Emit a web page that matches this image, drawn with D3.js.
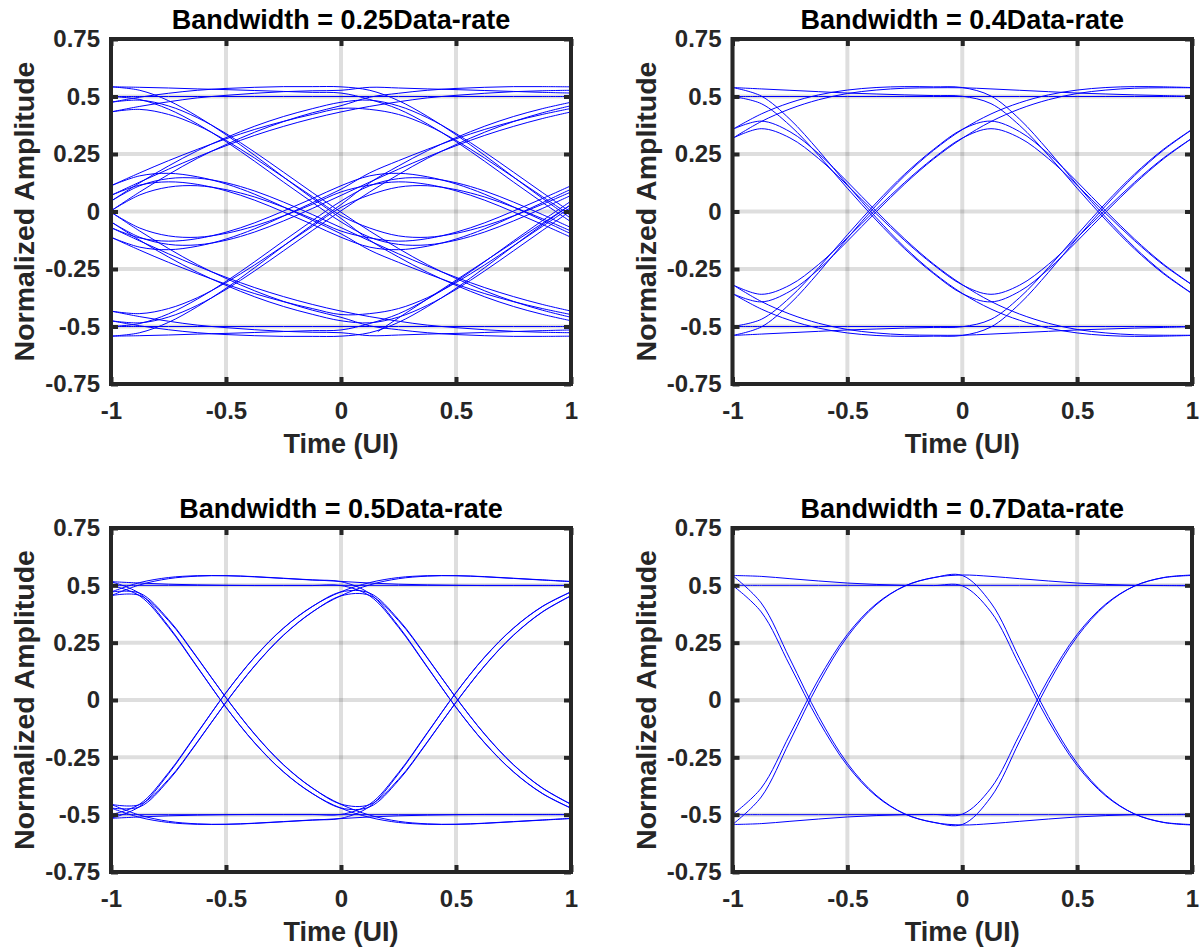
<!DOCTYPE html>
<html><head><meta charset="utf-8">
<script src="https://cdn.jsdelivr.net/npm/d3@7/dist/d3.min.js"></script>
<style>html,body{margin:0;padding:0;background:#fff;}</style>
</head><body>
<svg id="chart" width="1202" height="952"></svg>
<script>
// ---------- data ----------
const xTicks = [-1, -0.5, 0, 0.5, 1];
const xTickLabels = ["-1", "-0.5", "0", "0.5", "1"];
const yTicks = [-0.75, -0.5, -0.25, 0, 0.25, 0.5, 0.75];
const yTickLabels = ["-0.75", "-0.5", "-0.25", "0", "0.25", "0.5", "0.75"];
const titles = ["Bandwidth = 0.25Data-rate", "Bandwidth = 0.4Data-rate",
                "Bandwidth = 0.5Data-rate", "Bandwidth = 0.7Data-rate"];
const xLabel = "Time (UI)";
const yLabel = "Normalized Amplitude";
// sample phases inside one unit interval
const phase = [0, 0.125, 0.25, 0.375, 0.5, 0.625, 0.75, 0.875, 1];

// amplitude of each one-UI eye segment at the phases above
const bw025 = [
  [0.5, 0.5, 0.5, 0.5, 0.5, 0.5, 0.5, 0.5, 0.5],
  [0.542, 0.540, 0.537, 0.533, 0.530, 0.526, 0.522, 0.518, 0.515],
  [0.475, 0.497, 0.514, 0.527, 0.535, 0.540, 0.543, 0.543, 0.542],
  [0.433, 0.457, 0.477, 0.494, 0.505, 0.514, 0.521, 0.525, 0.527],
  [0.045, 0.125, 0.198, 0.264, 0.321, 0.371, 0.413, 0.447, 0.475],
  [0.003, 0.085, 0.161, 0.231, 0.291, 0.345, 0.391, 0.429, 0.460],
  [0.070, 0.128, 0.184, 0.237, 0.286, 0.331, 0.370, 0.404, 0.433],
  [0.112, 0.168, 0.221, 0.270, 0.316, 0.357, 0.392, 0.422, 0.448],
  [-0.5, -0.487, -0.445, -0.381, -0.304, -0.218, -0.128, -0.040, 0.045],
  [-0.542, -0.527, -0.482, -0.414, -0.334, -0.244, -0.150, -0.058, 0.030],
  [-0.475, -0.484, -0.459, -0.408, -0.339, -0.258, -0.171, -0.083, 0.003],
  [-0.433, -0.444, -0.422, -0.375, -0.309, -0.232, -0.149, -0.065, 0.018],
  [-0.045, -0.112, -0.143, -0.145, -0.125, -0.089, -0.041, 0.013, 0.070],
  [-0.003, -0.072, -0.106, -0.112, -0.095, -0.063, -0.019, 0.031, 0.085],
  [-0.070, -0.115, -0.129, -0.118, -0.090, -0.049, 0.002, 0.056, 0.112],
  [-0.112, -0.155, -0.166, -0.151, -0.120, -0.075, -0.020, 0.038, 0.097],
  [-0.5, -0.5, -0.5, -0.5, -0.5, -0.5, -0.5, -0.5, -0.5],
  [-0.542, -0.540, -0.537, -0.533, -0.530, -0.526, -0.522, -0.518, -0.515],
  [-0.475, -0.497, -0.514, -0.527, -0.535, -0.540, -0.543, -0.543, -0.542],
  [-0.433, -0.457, -0.477, -0.494, -0.505, -0.514, -0.521, -0.525, -0.527],
  [-0.045, -0.125, -0.198, -0.264, -0.321, -0.371, -0.413, -0.447, -0.475],
  [-0.003, -0.085, -0.161, -0.231, -0.291, -0.345, -0.391, -0.429, -0.460],
  [-0.070, -0.128, -0.184, -0.237, -0.286, -0.331, -0.370, -0.404, -0.433],
  [-0.112, -0.168, -0.221, -0.270, -0.316, -0.357, -0.392, -0.422, -0.448],
  [0.5, 0.487, 0.445, 0.381, 0.304, 0.218, 0.128, 0.040, -0.045],
  [0.542, 0.527, 0.482, 0.414, 0.334, 0.244, 0.150, 0.058, -0.030],
  [0.475, 0.484, 0.459, 0.408, 0.339, 0.258, 0.171, 0.083, -0.003],
  [0.433, 0.444, 0.422, 0.375, 0.309, 0.232, 0.149, 0.065, -0.018],
  [0.045, 0.112, 0.143, 0.145, 0.125, 0.089, 0.041, -0.013, -0.070],
  [0.003, 0.072, 0.106, 0.112, 0.095, 0.063, 0.019, -0.031, -0.085],
  [0.070, 0.115, 0.129, 0.118, 0.090, 0.049, -0.002, -0.056, -0.112],
  [0.112, 0.155, 0.166, 0.151, 0.120, 0.075, 0.020, -0.038, -0.097]
];
// which segment (first UI) is followed by which (second UI) in each trace
const pairs025 = [[0,0],[1,24],[2,25],[3,1],[4,26],[5,2],[6,3],[7,27],
                  [8,28],[9,4],[10,5],[11,29],[12,6],[13,30],[14,31],[15,7],
                  [16,16],[17,8],[18,9],[19,17],[20,10],[21,18],[22,19],[23,11],
                  [24,12],[25,20],[26,21],[27,13],[28,22],[29,14],[30,15],[31,23]];
// stray straight trace in the 0.25 panel (start and end time, amplitude)
const strayX = [0.16, 1];
const strayY = [-0.522, 0.03];

const bw04 = [
  [0.5, 0.5, 0.5, 0.5, 0.5, 0.5, 0.5, 0.5, 0.5],
  [0.539, 0.533, 0.527, 0.521, 0.515, 0.511, 0.507, 0.504, 0.501],
  [0.357, 0.424, 0.473, 0.507, 0.528, 0.539, 0.543, 0.542, 0.539],
  [0.318, 0.391, 0.446, 0.486, 0.513, 0.528, 0.536, 0.538, 0.538],
  [-0.5, -0.469, -0.374, -0.244, -0.101, 0.037, 0.163, 0.270, 0.357],
  [-0.539, -0.502, -0.401, -0.265, -0.116, 0.026, 0.156, 0.266, 0.356],
  [-0.357, -0.393, -0.347, -0.251, -0.129, -0.002, 0.120, 0.228, 0.318],
  [-0.318, -0.360, -0.320, -0.230, -0.114, 0.009, 0.127, 0.232, 0.319],
  [-0.5, -0.5, -0.5, -0.5, -0.5, -0.5, -0.5, -0.5, -0.5],
  [-0.539, -0.533, -0.527, -0.521, -0.515, -0.511, -0.507, -0.504, -0.501],
  [-0.357, -0.424, -0.473, -0.507, -0.528, -0.539, -0.543, -0.542, -0.539],
  [-0.318, -0.391, -0.446, -0.486, -0.513, -0.528, -0.536, -0.538, -0.538],
  [0.5, 0.469, 0.374, 0.244, 0.101, -0.037, -0.163, -0.270, -0.357],
  [0.539, 0.502, 0.401, 0.265, 0.116, -0.026, -0.156, -0.266, -0.356],
  [0.357, 0.393, 0.347, 0.251, 0.129, 0.002, -0.120, -0.228, -0.318],
  [0.318, 0.360, 0.320, 0.230, 0.114, -0.009, -0.127, -0.232, -0.319]
];
const pairs04 = [[0,0],[1,12],[2,13],[3,1],[4,14],[5,2],[6,3],[7,15],
                 [8,8],[9,4],[10,5],[11,9],[12,6],[13,10],[14,11],[15,7]];

const bw05 = [
  [0.5, 0.5, 0.5, 0.5, 0.5, 0.5, 0.5, 0.5, 0.5],
  [0.516, 0.510, 0.505, 0.502, 0.500, 0.499, 0.499, 0.499, 0.499],
  [0.471, 0.512, 0.534, 0.542, 0.542, 0.537, 0.530, 0.523, 0.516],
  [0.455, 0.502, 0.529, 0.540, 0.542, 0.538, 0.531, 0.524, 0.517],
  [-0.5, -0.454, -0.317, -0.143, 0.032, 0.187, 0.313, 0.407, 0.471],
  [-0.516, -0.464, -0.322, -0.145, 0.032, 0.188, 0.314, 0.408, 0.472],
  [-0.471, -0.466, -0.351, -0.185, -0.010, 0.150, 0.283, 0.384, 0.455],
  [-0.455, -0.456, -0.346, -0.183, -0.010, 0.149, 0.282, 0.383, 0.454],
  [-0.5, -0.5, -0.5, -0.5, -0.5, -0.5, -0.5, -0.5, -0.5],
  [-0.516, -0.510, -0.505, -0.502, -0.500, -0.499, -0.499, -0.499, -0.499],
  [-0.471, -0.512, -0.534, -0.542, -0.542, -0.537, -0.530, -0.523, -0.516],
  [-0.455, -0.502, -0.529, -0.540, -0.542, -0.538, -0.531, -0.524, -0.517],
  [0.5, 0.454, 0.317, 0.143, -0.032, -0.187, -0.313, -0.407, -0.471],
  [0.516, 0.464, 0.322, 0.145, -0.032, -0.188, -0.314, -0.408, -0.472],
  [0.471, 0.466, 0.351, 0.185, 0.010, -0.150, -0.283, -0.384, -0.455],
  [0.455, 0.456, 0.346, 0.183, 0.010, -0.149, -0.282, -0.383, -0.454]
];
const pairs05 = [[0,0],[1,12],[2,13],[3,1],[4,14],[5,2],[6,3],[7,15],
                 [8,8],[9,4],[10,5],[11,9],[12,6],[13,10],[14,11],[15,7]];

const bw07 = [
  [0.5, 0.5, 0.5, 0.5, 0.5, 0.5, 0.5, 0.5, 0.5],
  [0.543, 0.539, 0.529, 0.519, 0.510, 0.504, 0.500, 0.499, 0.498],
  [-0.5, -0.384, -0.150, 0.091, 0.286, 0.419, 0.497, 0.533, 0.543],
  [-0.543, -0.423, -0.179, 0.072, 0.276, 0.415, 0.497, 0.534, 0.545],
  [-0.5, -0.5, -0.5, -0.5, -0.5, -0.5, -0.5, -0.5, -0.5],
  [-0.543, -0.539, -0.529, -0.519, -0.510, -0.504, -0.500, -0.499, -0.498],
  [0.5, 0.384, 0.150, -0.091, -0.286, -0.419, -0.497, -0.533, -0.543],
  [0.543, 0.423, 0.179, -0.072, -0.276, -0.415, -0.497, -0.534, -0.545]
];
const pairs07 = [[0,0],[1,6],[2,7],[3,1],[4,4],[5,2],[6,3],[7,5]];

// ---------- layout ----------
const FONT = "'Liberation Sans', Arial, Helvetica, sans-serif";
const AXIS_COLOR = "#262626";
const panels = [
  { title: titles[0], segs: bw025, pairs: pairs025, stray: true,  left: 111,   right: 571,  top: 39,  bottom: 384 },
  { title: titles[1], segs: bw04,  pairs: pairs04,  stray: false, left: 732.5, right: 1192, top: 39,  bottom: 384 },
  { title: titles[2], segs: bw05,  pairs: pairs05,  stray: false, left: 111,   right: 571,  top: 528, bottom: 872 },
  { title: titles[3], segs: bw07,  pairs: pairs07,  stray: false, left: 732.5, right: 1192, top: 528, bottom: 872 }
];

const svg = d3.select("#chart");

panels.forEach((p, pi) => {
  const x = d3.scaleLinear().domain([-1, 1]).range([p.left, p.right]);
  const y = d3.scaleLinear().domain([-0.75, 0.75]).range([p.bottom, p.top]);
  const g = svg.append("g");

  // grid
  g.append("g").selectAll("line").data(xTicks).join("line")
    .attr("x1", d => x(d)).attr("x2", d => x(d))
    .attr("y1", p.top).attr("y2", p.bottom)
    .attr("stroke", "#000").attr("stroke-opacity", 0.13).attr("stroke-width", 4);
  g.append("g").selectAll("line").data(yTicks).join("line")
    .attr("y1", d => y(d)).attr("y2", d => y(d))
    .attr("x1", p.left).attr("x2", p.right)
    .attr("stroke", "#000").attr("stroke-opacity", 0.13).attr("stroke-width", 4);

  // clip
  const clipId = "clip" + pi;
  svg.append("clipPath").attr("id", clipId).append("rect")
    .attr("x", p.left).attr("y", p.top)
    .attr("width", p.right - p.left).attr("height", p.bottom - p.top);

  // eye traces: two unit intervals per trace
  const line = d3.line().x(d => x(d[0])).y(d => y(d[1]))
    .curve(d3.curveCatmullRom.alpha(0.5));
  const traces = p.pairs.map(([a, b]) => {
    const first = p.segs[a].map((v, i) => [-1 + phase[i], v]);
    const second = p.segs[b].slice(1).map((v, i) => [phase[i + 1], v]);
    return first.concat(second);
  });
  const tg = g.append("g").attr("clip-path", `url(#${clipId})`);
  tg.selectAll("path").data(traces).join("path")
    .attr("d", line)
    .attr("fill", "none").attr("stroke", "#0000ff").attr("stroke-width", 1);
  if (p.stray) {
    const pts = strayX.map((v, i) => [v, strayY[i]]);
    tg.append("path").attr("d", d3.line().x(d => x(d[0])).y(d => y(d[1]))(pts))
      .attr("fill", "none").attr("stroke", "#0000ff").attr("stroke-width", 1);
  }

  // axes (inward ticks on all sides)
  const styleAxis = sel => {
    sel.select(".domain").remove();
    sel.attr("color", AXIS_COLOR).attr("font-family", FONT)
       .attr("font-size", 24).attr("font-weight", "bold");
    sel.selectAll(".tick line").attr("stroke-width", 4);
  };
  g.append("g").attr("transform", `translate(0,${p.bottom})`)
    .call(d3.axisBottom(x).tickValues(xTicks).tickFormat((d, i) => xTickLabels[i])
      .tickSize(-7).tickPadding(18)).call(styleAxis);
  g.append("g").attr("transform", `translate(0,${p.top})`)
    .call(d3.axisTop(x).tickValues(xTicks).tickFormat("").tickSize(-7)).call(styleAxis);
  g.append("g").attr("transform", `translate(${p.left},0)`)
    .call(d3.axisLeft(y).tickValues(yTicks).tickFormat((d, i) => yTickLabels[i])
      .tickSize(-7).tickPadding(11)).call(styleAxis);
  g.append("g").attr("transform", `translate(${p.right},0)`)
    .call(d3.axisRight(y).tickValues(yTicks).tickFormat("").tickSize(-7)).call(styleAxis);

  // box
  g.append("rect").attr("x", p.left).attr("y", p.top)
    .attr("width", p.right - p.left).attr("height", p.bottom - p.top)
    .attr("fill", "none").attr("stroke", AXIS_COLOR).attr("stroke-width", 4);

  const cx = (p.left + p.right) / 2, cy = (p.top + p.bottom) / 2;
  // title
  g.append("text").attr("x", cx).attr("y", p.top - 10)
    .attr("text-anchor", "middle").attr("font-family", FONT).attr("font-weight", "bold")
    .attr("font-size", 27).attr("fill", "#000").text(p.title);
  // x label
  g.append("text").attr("x", cx).attr("y", p.bottom + 69)
    .attr("text-anchor", "middle").attr("font-family", FONT).attr("font-weight", "bold")
    .attr("font-size", 27).attr("fill", AXIS_COLOR).text(xLabel);
  // y label
  g.append("text").attr("transform", `translate(${p.left - 77},${cy}) rotate(-90)`)
    .attr("text-anchor", "middle").attr("font-family", FONT).attr("font-weight", "bold")
    .attr("font-size", 28.5).attr("fill", AXIS_COLOR).text(yLabel);
});
</script>
</body></html>
